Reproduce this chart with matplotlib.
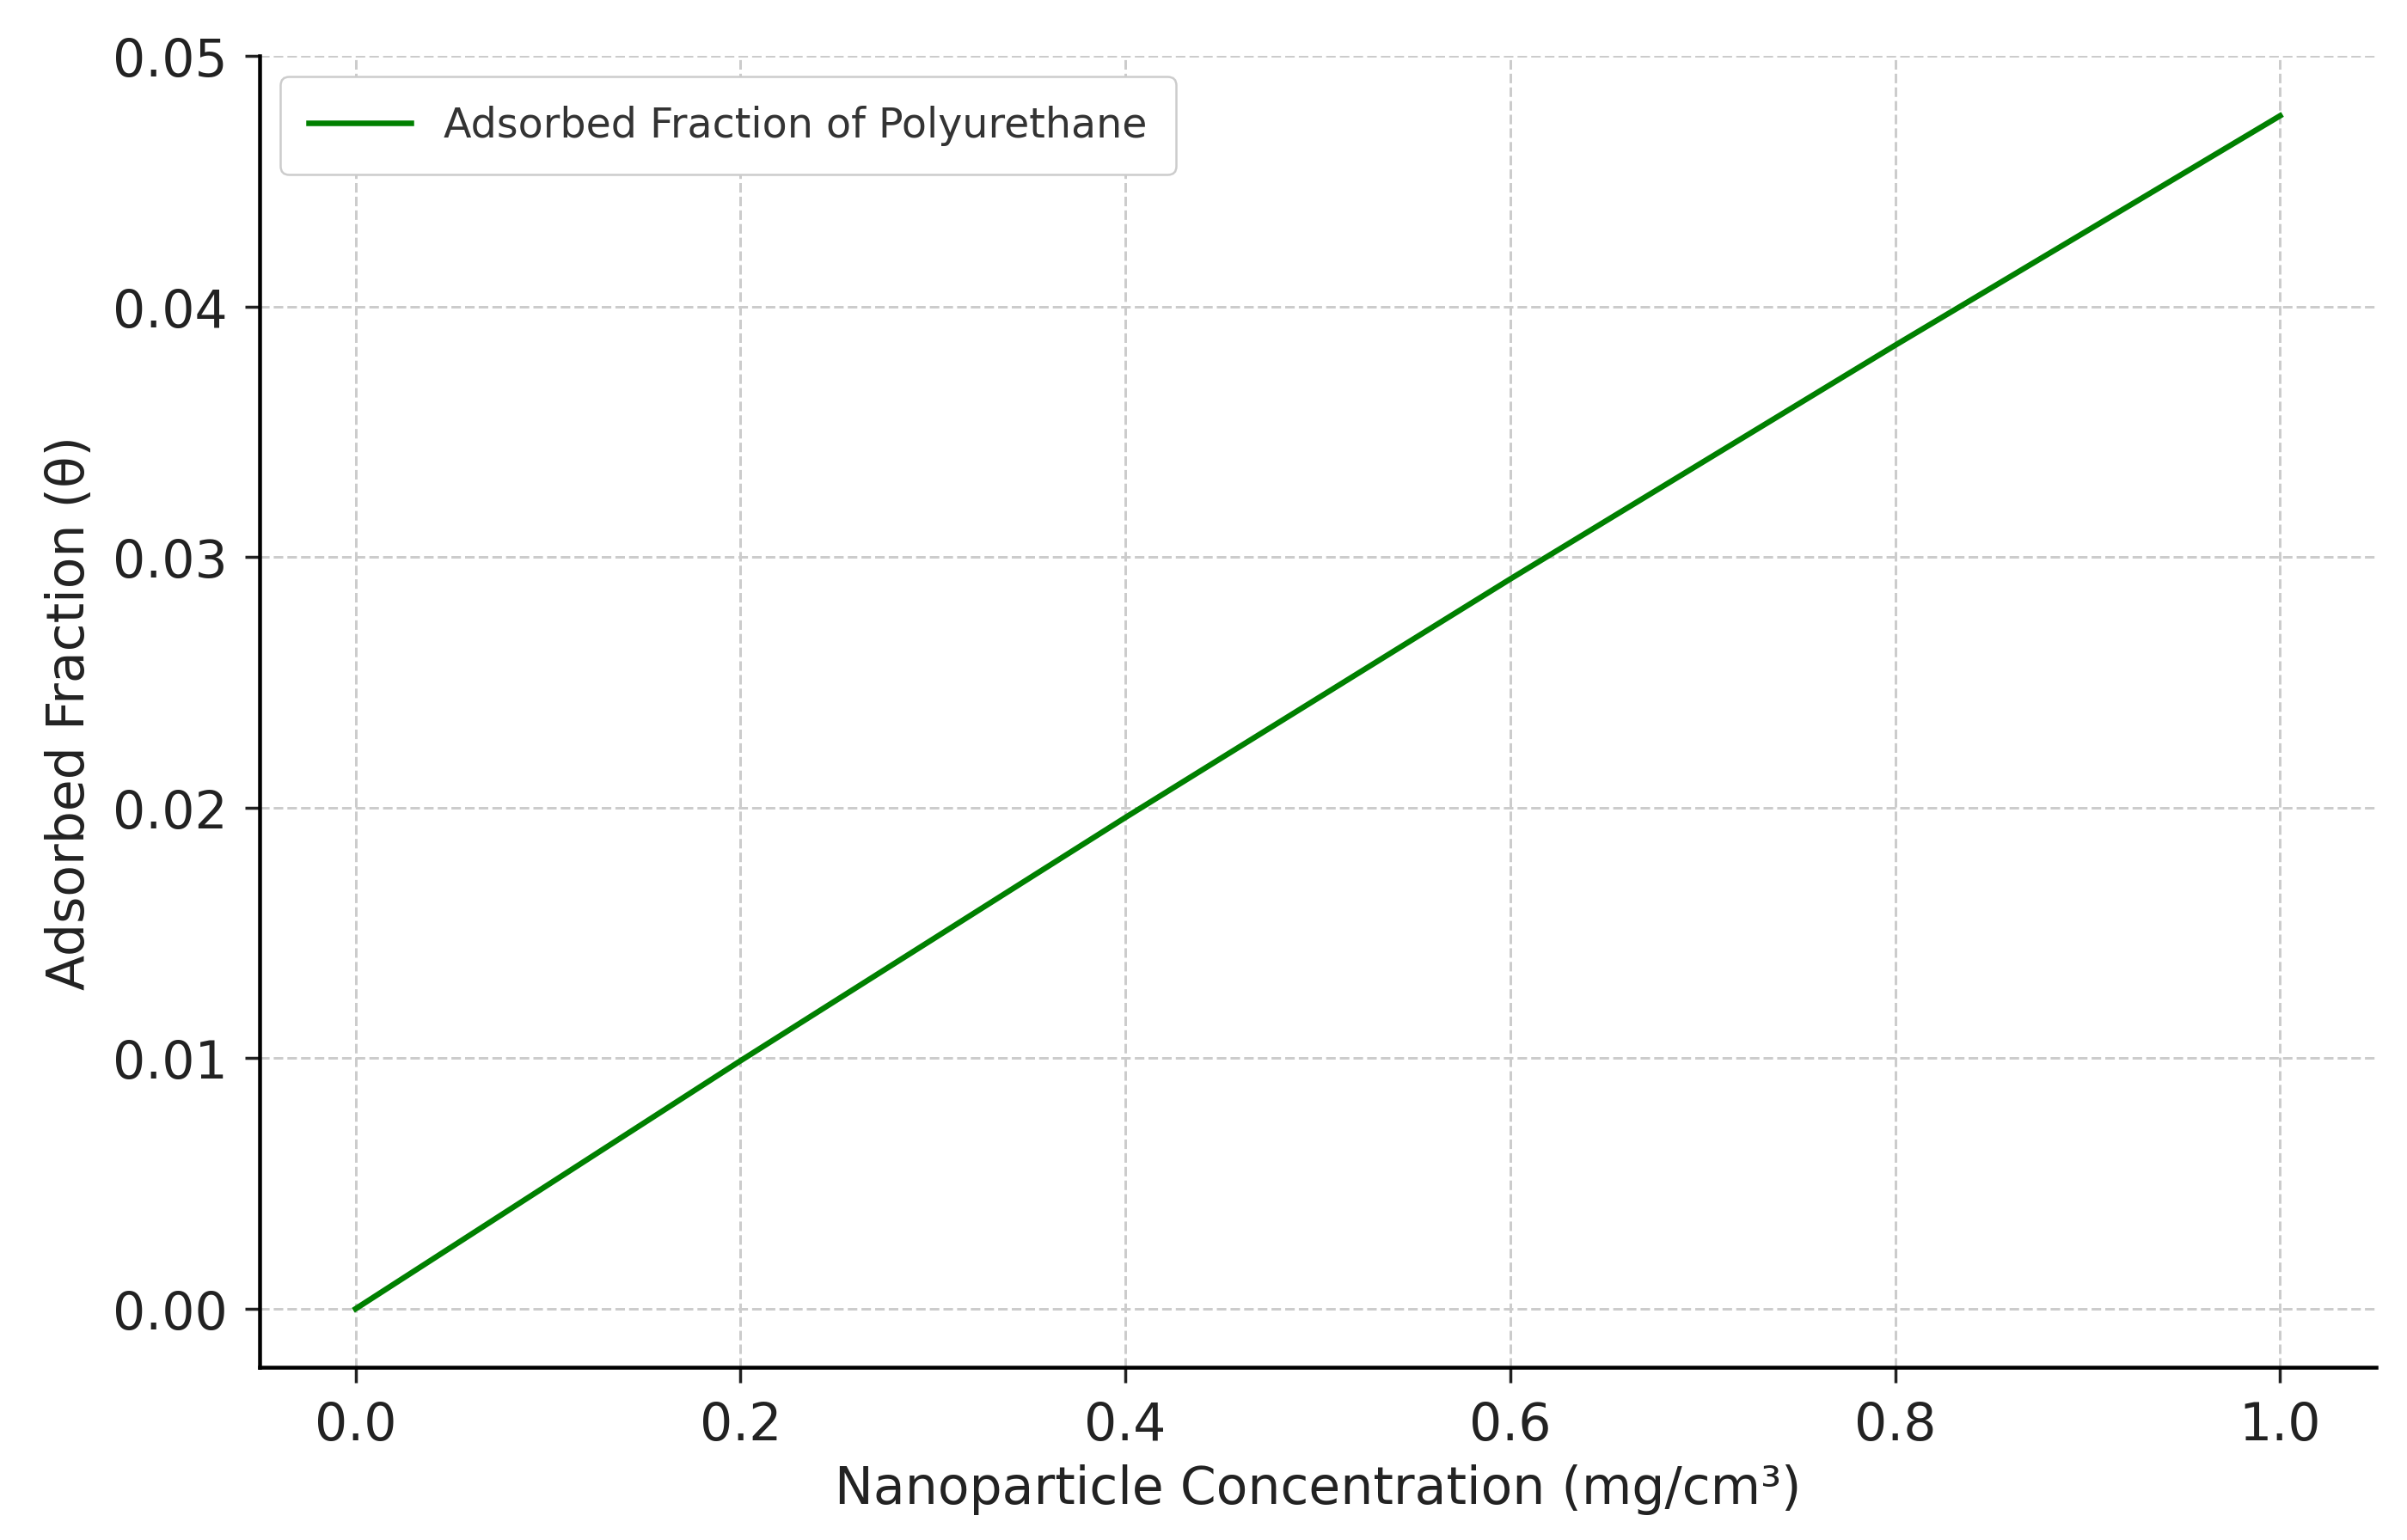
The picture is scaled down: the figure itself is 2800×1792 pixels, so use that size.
import matplotlib.pyplot as plt

# nanoparticle concentration (mg/cm3) and adsorbed fraction
conc = [0.0, 0.2, 0.4, 0.6, 0.8, 1.0]
theta = [0.0, 0.00990, 0.01961, 0.02913, 0.03846, 0.04762]

fig = plt.figure(figsize=(2800 / 180, 1793 / 180), dpi=180)
ax = fig.add_axes([0.108, 0.112, 0.879, 0.851])
ax.plot(conc, theta, color='green', linewidth=2.6, label='Adsorbed Fraction of Polyurethane')

ax.set_xlim(-0.0497, 1.0497)
ax.set_ylim(-0.00234, 0.05)
ax.set_xticks([0.0, 0.2, 0.4, 0.6, 0.8, 1.0])
ax.set_yticks([0.0, 0.01, 0.02, 0.03, 0.04, 0.05])
ax.set_yticklabels(['0.00', '0.01', '0.02', '0.03', '0.04', '0.05'])
ax.tick_params(labelsize=24, length=7, width=1.4, colors='#222222', pad=8)
ax.set_xlabel('Nanoparticle Concentration (mg/cm³)', fontsize=24, color='#222222', labelpad=6)
ax.set_ylabel('Adsorbed Fraction (θ)', fontsize=24, color='#222222', labelpad=8)
ax.grid(True, linestyle='--', color='#cccccc', linewidth=1.2)
for s in ['top', 'right']:
    ax.spines[s].set_visible(False)
for s in ['left', 'bottom']:
    ax.spines[s].set_linewidth(1.8)
leg = ax.legend(loc='upper left', fontsize=19, handlelength=2.5, framealpha=1,
                edgecolor='#cccccc', borderpad=0.7)
for t in leg.get_texts():
    t.set_color('#333333')

fig.savefig('out.png', dpi=180)
